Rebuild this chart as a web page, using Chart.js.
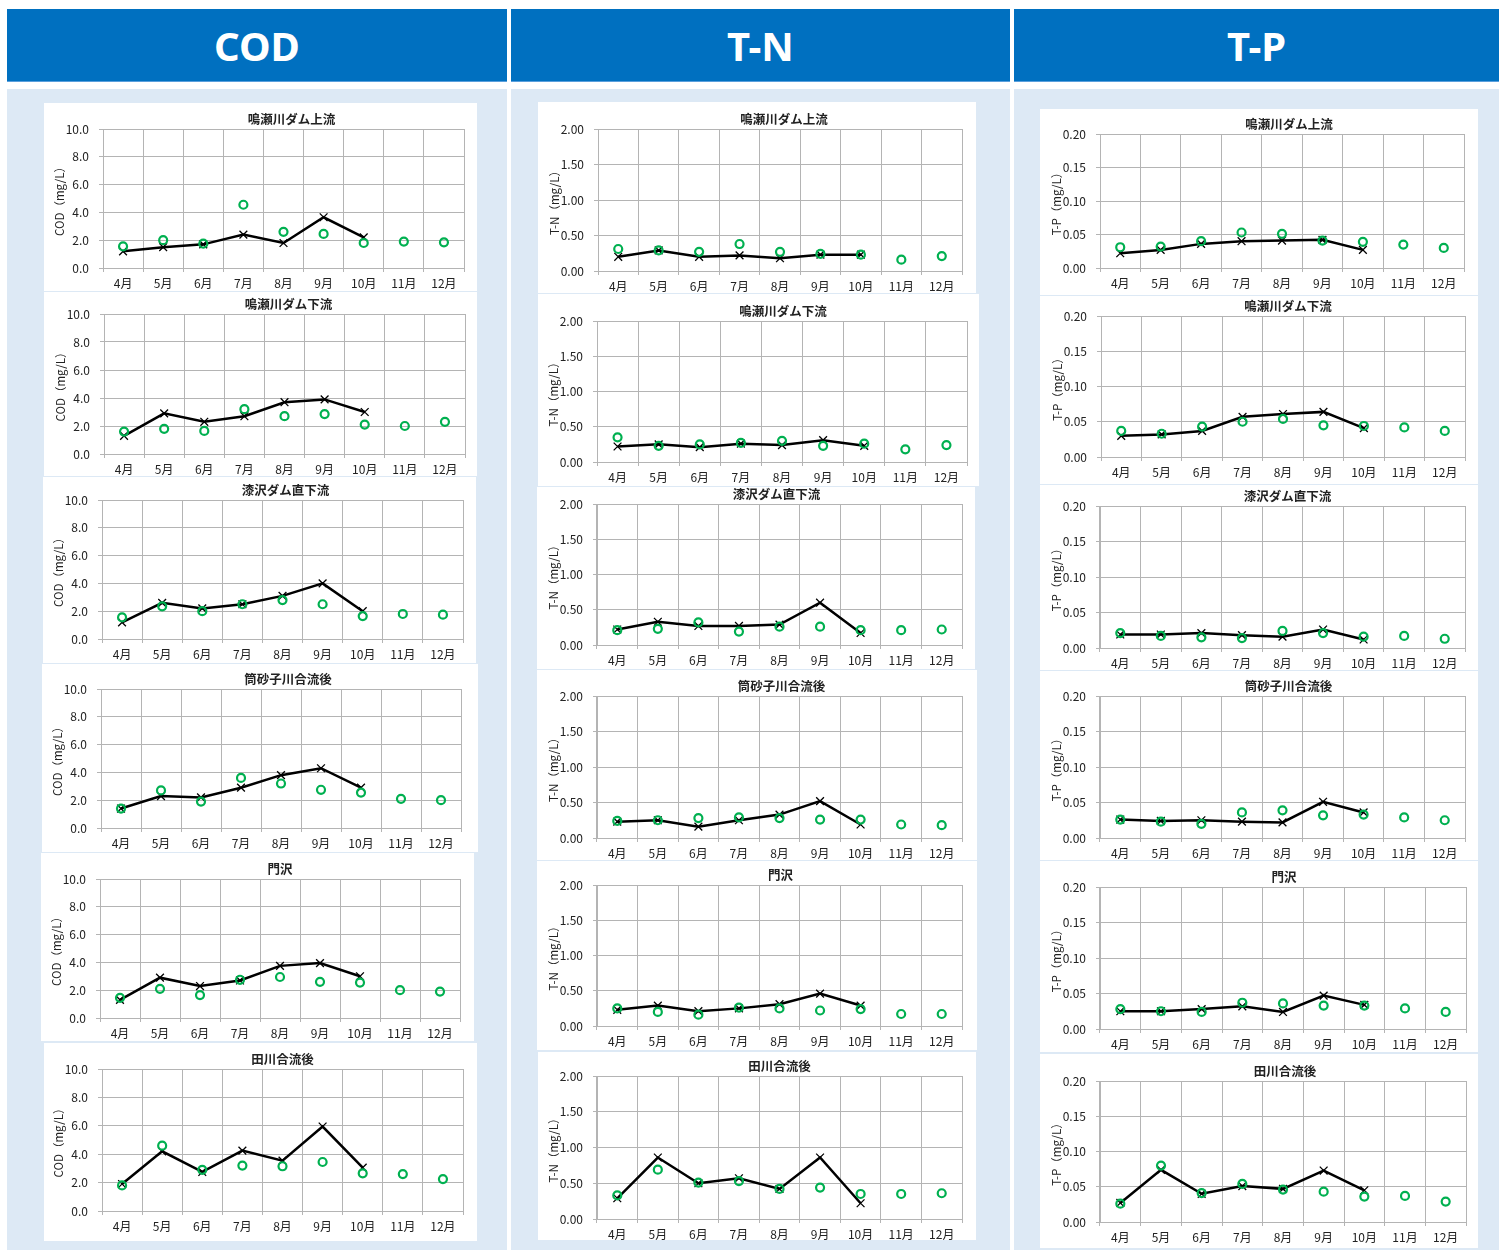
<!DOCTYPE html>
<html lang="ja">
<head>
<meta charset="utf-8">
<title>水質調査結果 COD・T-N・T-P</title>
<script src="https://cdn.jsdelivr.net/npm/chart.js@4.4.1/dist/chart.umd.min.js"></script>
<style>
html,body{margin:0;padding:0;background:#fff;}
body{width:1499px;height:1250px;position:relative;overflow:hidden;font-family:"Noto Sans CJK JP","Noto Sans",sans-serif;}
.head{position:absolute;top:9px;height:73px;background:#0070C0;color:#fff;font-family:"Noto Sans","Open Sans",sans-serif;font-weight:bold;font-size:40px;display:flex;align-items:center;justify-content:center;border-bottom:1px solid #5a9fdc;box-sizing:border-box;}
.panel{position:absolute;top:89px;height:1161px;background:#DDE9F5;}
.box{position:absolute;background:#fff;}
canvas{position:absolute;}
</style>
</head>
<body>
<div class="head" style="left:7px;width:500px;">COD</div>
<div class="head" style="left:511px;width:499px;">T-N</div>
<div class="head" style="left:1014px;width:485px;">T-P</div>
<div class="panel" style="left:7px;width:500px;"></div>
<div class="panel" style="left:511px;width:499px;"></div>
<div class="panel" style="left:1014px;width:485px;"></div>
<script>
// Months on the x axis
const months = ['4月', '5月', '6月', '7月', '8月', '9月', '10月', '11月', '12月'];
// Sampling stations (top to bottom)
const stations = ['鳴瀬川ダム上流', '鳴瀬川ダム下流', '漆沢ダム直下流', '筒砂子川合流後', '門沢', '田川合流後'];

// COD (mg/L): current year (× with line) and comparison values (○)
const codCur1 = [1.2, 1.5, 1.7, 2.4, 1.8, 3.65, 2.2];
const codPrev1 = [1.55, 2.0, 1.75, 4.55, 2.6, 2.45, 1.8, 1.9, 1.85];
const codCur2 = [1.3, 2.9, 2.3, 2.7, 3.7, 3.9, 3.0];
const codPrev2 = [1.6, 1.8, 1.65, 3.2, 2.7, 2.85, 2.1, 2.0, 2.3];
const codCur3 = [1.2, 2.6, 2.2, 2.5, 3.1, 4.0, 2.0];
const codPrev3 = [1.55, 2.35, 2.0, 2.5, 2.8, 2.5, 1.65, 1.8, 1.75];
const codCur4 = [1.4, 2.3, 2.2, 2.9, 3.8, 4.3, 2.9];
const codPrev4 = [1.4, 2.7, 1.9, 3.6, 3.2, 2.75, 2.55, 2.1, 2.0];
const codCur5 = [1.3, 2.9, 2.3, 2.7, 3.75, 3.95, 3.0];
const codPrev5 = [1.45, 2.1, 1.65, 2.75, 2.95, 2.6, 2.55, 2.0, 1.9];
const codCur6 = [1.9, 4.2, 2.75, 4.25, 3.55, 5.95, 3.05];
const codPrev6 = [1.8, 4.6, 2.9, 3.2, 3.15, 3.45, 2.65, 2.6, 2.25];

// T-N (mg/L)
const tnCur1 = [0.20, 0.29, 0.20, 0.22, 0.18, 0.23, 0.23];
const tnPrev1 = [0.31, 0.29, 0.27, 0.38, 0.27, 0.24, 0.23, 0.16, 0.21];
const tnCur2 = [0.22, 0.25, 0.21, 0.26, 0.24, 0.31, 0.23];
const tnPrev2 = [0.35, 0.23, 0.25, 0.27, 0.30, 0.23, 0.26, 0.18, 0.24];
const tnCur3 = [0.22, 0.33, 0.27, 0.27, 0.29, 0.60, 0.17];
const tnPrev3 = [0.21, 0.23, 0.32, 0.19, 0.26, 0.26, 0.21, 0.21, 0.22];
const tnCur4 = [0.23, 0.25, 0.16, 0.25, 0.33, 0.52, 0.19];
const tnPrev4 = [0.24, 0.25, 0.28, 0.29, 0.28, 0.26, 0.26, 0.19, 0.18];
const tnCur5 = [0.23, 0.29, 0.21, 0.25, 0.31, 0.46, 0.29];
const tnPrev5 = [0.25, 0.20, 0.16, 0.26, 0.25, 0.22, 0.24, 0.17, 0.17];
const tnCur6 = [0.29, 0.86, 0.50, 0.57, 0.42, 0.86, 0.22];
const tnPrev6 = [0.33, 0.69, 0.51, 0.53, 0.42, 0.44, 0.35, 0.35, 0.36];

// T-P (mg/L)
const tpCur1 = [0.022, 0.027, 0.036, 0.040, 0.041, 0.042, 0.027];
const tpPrev1 = [0.031, 0.032, 0.040, 0.053, 0.051, 0.041, 0.039, 0.035, 0.030];
const tpCur2 = [0.030, 0.032, 0.037, 0.057, 0.061, 0.064, 0.041];
const tpPrev2 = [0.037, 0.033, 0.043, 0.050, 0.054, 0.045, 0.044, 0.042, 0.037];
const tpCur3 = [0.019, 0.019, 0.021, 0.018, 0.016, 0.026, 0.012];
const tpPrev3 = [0.021, 0.017, 0.015, 0.014, 0.024, 0.021, 0.016, 0.017, 0.013];
const tpCur4 = [0.026, 0.024, 0.025, 0.023, 0.022, 0.051, 0.036];
const tpPrev4 = [0.026, 0.023, 0.020, 0.036, 0.039, 0.032, 0.033, 0.029, 0.025];
const tpCur5 = [0.025, 0.025, 0.028, 0.032, 0.024, 0.047, 0.034];
const tpPrev5 = [0.028, 0.025, 0.024, 0.037, 0.036, 0.033, 0.033, 0.029, 0.024];
const tpCur6 = [0.027, 0.074, 0.040, 0.051, 0.047, 0.073, 0.045];
const tpPrev6 = [0.026, 0.080, 0.041, 0.054, 0.046, 0.043, 0.036, 0.037, 0.029];

// Y axis ranges and tick formats per parameter
const codAxis = { title: 'COD（mg/L）', max: 10, step: 2, digits: 1 };
const tnAxis = { title: 'T-N（mg/L）', max: 2, step: 0.5, digits: 2 };
const tpAxis = { title: 'T-P（mg/L）', max: 0.2, step: 0.05, digits: 2 };

// Page layout: white card [l, t, r, b], plot area [l, t, r, b], title shift
const codBoxes = [[44,103,477,291],[44,292,477,476],[43,477,476,663],[42,664,478,852],[41,853,474,1041],[44,1043,477,1241]];
const codPlots = [[103,129,464,268],[104,314,465,454],[102,500,463,639],[101,689,461,828],[100,879,460,1018],[102,1069,463,1211]];
const codTitleDx = [8, 4, 3, 7, 0, 0];
const tnBoxes = [[538,102,976,293],[538,294,979,486],[537,487,975,669],[537,670,977,860],[537,861,977,1050],[538,1052,976,1240]];
const tnPlots = [[598,129,962,271],[597,321,967,462],[597,504,962,645],[597,696,962,838],[597,885,962,1026],[597,1076,962,1219]];
const tnTitleDx = [4, 1, -3, 2, 1, 0];
const tpBoxes = [[1040,109,1478,295],[1040,296,1478,484],[1040,485,1478,670],[1040,671,1478,860],[1040,861,1478,1052],[1040,1054,1478,1248]];
const tpPlots = [[1100,134,1464,268],[1101,316,1465,457],[1100,506,1465,648],[1100,696,1465,838],[1100,887,1466,1029],[1100,1081,1466,1222]];
const tpTitleDx = [7, 5, 5, 6, 1, 2];

const GRID = '#b4b4b4';
const TEXT = '#222222';
const GREEN = '#00B050';
const FONT = '"Noto Sans CJK JP", "Noto Sans", sans-serif';
const AXIS_W = 62, TOP_PAD = 28, X_H = 26, RIGHT_PAD = 10;

// Station name above each plot
const stationTitle = {
  id: 'stationTitle',
  afterDraw(chart, args, opts) {
    const { ctx, chartArea } = chart;
    ctx.save();
    ctx.font = 'bold 12.5px ' + FONT;
    ctx.fillStyle = TEXT;
    ctx.textAlign = 'center';
    ctx.textBaseline = 'middle';
    ctx.fillText(opts.text, (chartArea.left + chartArea.right) / 2 + opts.dx, chartArea.top - 10);
    ctx.restore();
  }
};

function addBox(b) {
  const d = document.createElement('div');
  d.className = 'box';
  d.style.left = b[0] + 'px';
  d.style.top = b[1] + 'px';
  d.style.width = (b[2] - b[0]) + 'px';
  d.style.height = (b[3] - b[1]) + 'px';
  document.body.appendChild(d);
}

function drawStation(plot, axis, name, dx, current, previous) {
  const c = document.createElement('canvas');
  const w = plot[2] - plot[0] + AXIS_W + RIGHT_PAD;
  const h = plot[3] - plot[1] + TOP_PAD + X_H;
  c.width = w; c.height = h;
  c.style.left = (plot[0] - AXIS_W) + 'px';
  c.style.top = (plot[1] - TOP_PAD) + 'px';
  c.style.width = w + 'px'; c.style.height = h + 'px';
  document.body.appendChild(c);

  new Chart(c, {
    type: 'line',
    data: {
      labels: months,
      datasets: [
        {
          data: previous,
          showLine: false,
          pointStyle: 'circle',
          pointRadius: 4,
          pointBorderWidth: 2.2,
          pointBorderColor: GREEN,
          pointBackgroundColor: 'rgba(0,0,0,0)',
          order: 0
        },
        {
          data: current,
          borderColor: '#000',
          borderWidth: 2.5,
          tension: 0,
          pointStyle: 'crossRot',
          pointRadius: 5.5,
          pointBorderWidth: 1.3,
          pointBorderColor: '#000',
          pointBackgroundColor: '#000',
          order: 1
        }
      ]
    },
    options: {
      responsive: false,
      animation: false,
      devicePixelRatio: 1,
      layout: { padding: { left: 0, top: TOP_PAD, right: RIGHT_PAD, bottom: 0 } },
      plugins: {
        legend: { display: false },
        tooltip: { enabled: false },
        stationTitle: { text: name, dx: dx }
      },
      scales: {
        x: {
          offset: true,
          grid: { offset: true, color: GRID, lineWidth: 1, tickLength: 4, tickColor: GRID },
          border: { color: GRID, width: 1 },
          ticks: { color: TEXT, font: { family: FONT, size: 12 }, padding: 4, maxRotation: 0, autoSkip: false },
          afterFit(scale) { scale.height = X_H; }
        },
        y: {
          min: 0,
          max: axis.max,
          grid: { color: GRID, lineWidth: 1, tickLength: 4, tickColor: GRID },
          border: { color: GRID, width: 1 },
          ticks: {
            stepSize: axis.step,
            color: TEXT,
            font: { family: FONT, size: 12 },
            padding: 10,
            callback: (v) => Number(v).toFixed(axis.digits)
          },
          title: {
            display: true,
            text: axis.title,
            color: TEXT,
            font: { family: FONT, size: 11.5 },
            padding: { top: 12, bottom: 0 }
          },
          afterFit(scale) { scale.width = AXIS_W; }
        }
      }
    },
    plugins: [stationTitle]
  });
}

const codCur = [codCur1, codCur2, codCur3, codCur4, codCur5, codCur6];
const codPrev = [codPrev1, codPrev2, codPrev3, codPrev4, codPrev5, codPrev6];
const tnCur = [tnCur1, tnCur2, tnCur3, tnCur4, tnCur5, tnCur6];
const tnPrev = [tnPrev1, tnPrev2, tnPrev3, tnPrev4, tnPrev5, tnPrev6];
const tpCur = [tpCur1, tpCur2, tpCur3, tpCur4, tpCur5, tpCur6];
const tpPrev = [tpPrev1, tpPrev2, tpPrev3, tpPrev4, tpPrev5, tpPrev6];

[codBoxes, tnBoxes, tpBoxes].forEach(list => list.forEach(addBox));
stations.forEach((name, i) => {
  drawStation(codPlots[i], codAxis, name, codTitleDx[i], codCur[i], codPrev[i]);
  drawStation(tnPlots[i], tnAxis, name, tnTitleDx[i], tnCur[i], tnPrev[i]);
  drawStation(tpPlots[i], tpAxis, name, tpTitleDx[i], tpCur[i], tpPrev[i]);
});
</script>
</body>
</html>
